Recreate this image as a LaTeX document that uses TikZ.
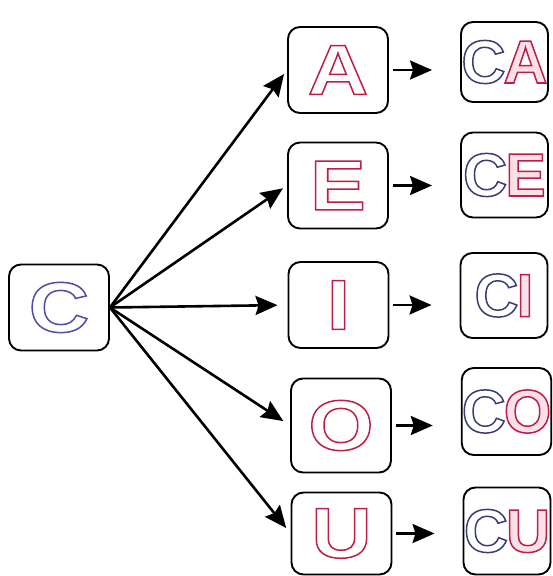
\documentclass[tikz,border=0pt]{standalone}
\usepackage{fontspec}
\setmainfont{Liberation Sans}
\newfontfamily\widefont[FakeStretch=1.18]{Liberation Sans}
\usetikzlibrary{arrows.meta}
\definecolor{cblue}{RGB}{80,75,165}
\definecolor{cnavy}{RGB}{60,60,115}
\definecolor{cred}{RGB}{190,30,70}
% outlined letters (stroke only / stroke with a light tint)
\newcommand{\hollow}[2]{\special{pdf:literal direct 1 Tr 1.5 w}\textcolor{#1}{#2}\special{pdf:literal direct 0 Tr}}
\newcommand{\tinted}[2]{\special{pdf:literal direct 2 Tr 1.5 w}\textcolor{#1}{\special{pdf:literal direct 0.98 0.88 0.91 rg}#2}\special{pdf:literal direct 0 Tr}}
\newcommand{\twin}[1]{\hollow{cnavy}{C}\kern-2pt\tinted{cred}{#1}}

\begin{document}
\begin{tikzpicture}[x=1pt,y=-1pt,
  box/.style={draw, line width=1.9pt, rounded corners=12pt, minimum width=100pt,
    minimum height=86pt, inner sep=0pt, font=\widefont\fontsize{71}{71}\selectfont\bfseries},
  pair/.style={box, minimum width=87pt, minimum height=85pt,
    font=\fontsize{61}{61}\selectfont\bfseries},
  arr/.style={-{Stealth[length=22pt,width=19pt,inset=3pt]}, line width=2.6pt}]

\useasboundingbox (0,0) rectangle (552,576);

\node[box] (c) at (59,307.5) {\hollow{cblue}{C}};

\node[box] (a) at (338,70) {\hollow{cred}{A}};
\node[box] (e) at (338,185.5) {\hollow{cred}{E}};
\node[box] (i) at (338.5,305) {\hollow{cred}{I}};
\node[box, minimum height=94pt] (o) at (341,425.5) {\hollow{cred}{O}};
\node[box, minimum height=82pt] (u) at (341.5,533.5) {\hollow{cred}{U}};

\node[pair, minimum height=80pt] (ca) at (504.5,62) {\twin{A}};
\node[pair] (ce) at (504.5,175) {\twin{E}};
\node[pair] (ci) at (504,295.5) {\twin{I}};
\node[pair, minimum height=87pt] (co) at (506.5,411.5) {\twin{O}};
\node[pair, minimum height=87pt] (cu) at (507,531) {\twin{U}};

% from C to the vowels
\draw[arr, shorten >=5pt] (c.east) -- (a.west);
\draw[arr, shorten >=5pt] (c.east) -- (e.west);
\draw[arr, shorten >=10pt] (c.east) -- (i.west);
\draw[arr, shorten >=8pt] (c.east) -- (o.west);
\draw[arr, shorten >=7pt] (c.east) -- (u.west);

% vowels to syllables
\draw[arr, shorten <=4pt, shorten >=28pt] (a.east) -- (a.east -| ca.west);
\draw[arr, shorten <=4pt, shorten >=28pt] (e.east) -- (e.east -| ce.west);
\draw[arr, shorten <=4pt, shorten >=28pt] (i.east) -- (i.east -| ci.west);
\draw[arr, shorten <=4pt, shorten >=28pt] (o.east) -- (o.east -| co.west);
\draw[arr, shorten <=4pt, shorten >=28pt] (u.east) -- (u.east -| cu.west);

\end{tikzpicture}
\end{document}
